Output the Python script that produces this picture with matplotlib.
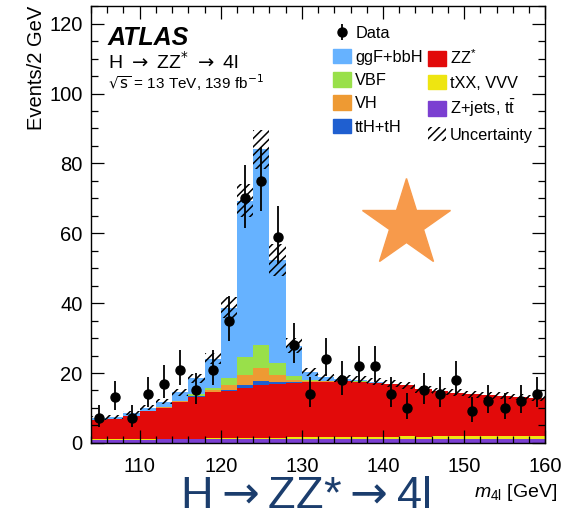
import math
import numpy as np
import matplotlib
matplotlib.use("Agg")
import matplotlib.pyplot as plt
from matplotlib.patches import Patch
from matplotlib.lines import Line2D

plt.rcParams['font.family'] = ['Liberation Sans', 'DejaVu Sans']
plt.rcParams['mathtext.fontset'] = 'custom'
plt.rcParams['mathtext.rm'] = 'Liberation Sans'
plt.rcParams['mathtext.it'] = 'Liberation Sans:italic'
plt.rcParams['mathtext.bf'] = 'Liberation Sans:bold'
plt.rcParams['hatch.linewidth'] = 1.1

# m4l binning: 2 GeV bins from 104 to 160 GeV
bin_edges = np.arange(104, 162, 2)
bin_centers = 0.5 * (bin_edges[:-1] + bin_edges[1:])

# observed events per bin
data = [7, 13, 7, 14, 17, 21, 15, 21, 35, 70, 75, 59, 28, 14,
        24, 18, 22, 22, 14, 10, 15, 14, 18, 9, 12, 10, 12, 14]

# expected yields per bin (stacked, bottom to top)
zjets = [0.9, 0.9, 0.9, 0.95, 1.0, 1.0, 1.0, 1.05, 1.05, 1.1, 1.1, 1.1, 1.1, 1.15,
         1.15, 1.15, 1.15, 1.15, 1.15, 1.15, 1.1, 1.1, 1.1, 1.1, 1.05, 1.05, 1.05, 1.0]
txx_vvv = [0.1, 0.1, 0.15, 0.15, 0.2, 0.2, 0.25, 0.3, 0.3, 0.35, 0.4, 0.4, 0.45, 0.5,
           0.5, 0.55, 0.6, 0.6, 0.65, 0.7, 0.7, 0.75, 0.8, 0.8, 0.85, 0.85, 0.9, 0.9]
zz = [5.6, 5.8, 6.6, 8.0, 8.9, 10.6, 12.0, 13.2, 13.6, 14.4, 15.1, 15.3, 15.7, 15.8,
      15.9, 15.9, 15.8, 15.5, 15.1, 14.6, 13.5, 13.0, 12.5, 12.0, 11.8, 11.6, 11.2, 11.0]
tth = [0, 0, 0, 0, 0, 0, 0.05, 0.1, 0.2, 0.7, 1.0, 0.5, 0.2, 0.05,
       0, 0, 0, 0, 0, 0, 0, 0, 0, 0, 0, 0, 0, 0]
vh = [0, 0, 0, 0, 0.05, 0.1, 0.2, 0.5, 1.3, 3.0, 3.8, 2.1, 0.5, 0.2,
      0.1, 0.05, 0, 0, 0, 0, 0, 0, 0, 0, 0, 0, 0, 0]
vbf = [0, 0, 0, 0, 0.05, 0.2, 0.4, 0.6, 2.2, 5.1, 6.5, 3.4, 1.1, 0.3,
       0.15, 0.1, 0.05, 0, 0, 0, 0, 0, 0, 0, 0, 0, 0, 0]
ggf = [0.5, 0.6, 0.8, 1.0, 1.6, 2.4, 4.6, 8.4, 20.1, 44.7, 56.1, 29.5, 8.8, 2.25,
       1.05, 0.55, 0.45, 0.2, 0.1, 0.1, 0.05, 0, 0, 0, 0, 0, 0, 0]
# half-width of the total uncertainty band
unc = [0.5, 0.5, 0.6, 0.7, 0.8, 1.0, 1.3, 1.7, 2.9, 4.8, 5.6, 4.6, 2.1, 1.2,
       1.0, 1.0, 1.0, 1.0, 1.0, 1.0, 1.0, 1.0, 1.0, 1.0, 1.0, 1.0, 0.9, 0.9]

components = [
    (zjets, '#7b3fd1', r'Z+jets, t$\bar{\mathrm{t}}$'),
    (txx_vvv, '#eee511', 'tXX, VVV'),
    (zz, '#e20a0a', r'ZZ$^{*}$'),
    (tth, '#1f5fd0', 'ttH+tH'),
    (vh, '#ee9a33', 'VH'),
    (vbf, '#99e04a', 'VBF'),
    (ggf, '#66b2ff', 'ggF+bbH'),
]


def poisson_interval(n, cl=0.6827):
    # central Garwood interval for an observed count n
    alpha = 1.0 - cl

    def cdf(k, mu):
        if k < 0:
            return 0.0
        return sum(math.exp(-mu + i * math.log(mu) - math.lgamma(i + 1)) for i in range(k + 1))

    def solve(k, target):
        lo, hi = 1e-9, n + 10 * math.sqrt(n + 1) + 10
        for _ in range(80):
            mid = 0.5 * (lo + hi)
            if cdf(k, mid) > target:
                lo = mid
            else:
                hi = mid
        return 0.5 * (lo + hi)

    upper = solve(n, alpha / 2)
    lower = solve(n - 1, 1 - alpha / 2) if n > 0 else 0.0
    return lower, upper


fig = plt.figure(figsize=(5.65, 5.18), dpi=100)
ax = fig.add_axes([0.161, 0.145, 0.804, 0.843])

# stacked histogram
base = np.zeros(len(bin_centers))
for vals, col, lab in components:
    top = base + np.array(vals)
    ax.stairs(top, bin_edges, baseline=base.copy(), fill=True, color=col, linewidth=0)
    base = top

# uncertainty band
unc = np.array(unc)
ax.stairs(base + unc, bin_edges, baseline=base - unc, fill=True, facecolor='none',
          edgecolor='black', hatch='////', linewidth=0)

# data points
lo_err, hi_err = [], []
for n in data:
    lo, hi = poisson_interval(n)
    lo_err.append(n - lo)
    hi_err.append(hi - n)
ax.errorbar(bin_centers, data, yerr=[lo_err, hi_err], fmt='o', color='black',
            ms=6.5, elinewidth=1.3, capsize=0, zorder=5)

ax.set_xlim(104, 160)
ax.set_ylim(0, 125)
ax.set_xticks([110, 120, 130, 140, 150, 160])
ax.set_xticks(np.arange(104, 161, 2), minor=True)
ax.set_yticks(np.arange(0, 121, 20))
ax.set_yticks(np.arange(0, 126, 5), minor=True)
ax.tick_params(which='both', direction='in', top=True, right=True, labelsize=14.5)
ax.tick_params(which='major', length=9.5, width=0.9)
ax.tick_params(which='minor', length=4.8, width=0.9)
ax.tick_params(axis='x', pad=10)
ax.tick_params(axis='y', pad=6)
for sp in ax.spines.values():
    sp.set_linewidth(1.0)

ax.set_ylabel('Events/2 GeV', fontsize=14.5, loc='top', labelpad=2)
ax.text(1.026, -0.114, r'$m_{4\mathrm{l}}$ [GeV]', transform=ax.transAxes,
        ha='right', va='center', fontsize=14)

# labels
ax.text(0.037, 0.927, 'ATLAS', transform=ax.transAxes, fontsize=18,
        fontweight='bold', fontstyle='italic', va='center')
ax.text(0.037, 0.872, r'H$\;\rightarrow\;$ZZ$^{*}$$\;\rightarrow\;$4l', transform=ax.transAxes,
        fontsize=14, va='center', math_fontfamily='dejavusans')
ax.text(0.037, 0.824, r'$\sqrt{\mathrm{s}}$ = 13 TeV, 139 fb$^{-1}$', transform=ax.transAxes,
        fontsize=11, va='center', math_fontfamily='dejavusans')

# legend
data_handle = ax.errorbar([], [], yerr=[], fmt='o', color='black', ms=6.5, elinewidth=1.3)
blank = Line2D([], [], linestyle='none', marker=None)
col = {lab: c for _, c, lab in components}
handles = [data_handle,
           Patch(color=col['ggF+bbH']), Patch(color=col['VBF']),
           Patch(color=col['VH']), Patch(color=col['ttH+tH']),
           blank,
           Patch(color=col[r'ZZ$^{*}$']), Patch(color=col['tXX, VVV']),
           Patch(color=col[r'Z+jets, t$\bar{\mathrm{t}}$']),
           Patch(facecolor='none', edgecolor='black', hatch='////', linewidth=0)]
labels = ['Data', 'ggF+bbH', 'VBF', 'VH', 'ttH+tH',
          '', r'ZZ$^{*}$', 'tXX, VVV', r'Z+jets, t$\bar{\mathrm{t}}$', 'Uncertainty']
ax.legend(handles, labels, ncol=2, loc='upper left', bbox_to_anchor=(0.515, 0.975),
          frameon=False, fontsize=11.8, handlelength=1.1, handleheight=1.0,
          handletextpad=0.25, columnspacing=0.3, labelspacing=0.45, borderpad=0)

# star marker
ax.plot([0.693], [0.502], marker='*', ms=66, color='#f79a4b', linestyle='none',
        transform=ax.transAxes, clip_on=False, zorder=6)

fig.text(0.54, 0.042, r'H$\rightarrow$ZZ*$\rightarrow$4l', color='#1b3d6d', fontsize=32.5,
         ha='center', va='center', math_fontfamily='dejavusans')

fig.savefig('out.png', dpi=100)
